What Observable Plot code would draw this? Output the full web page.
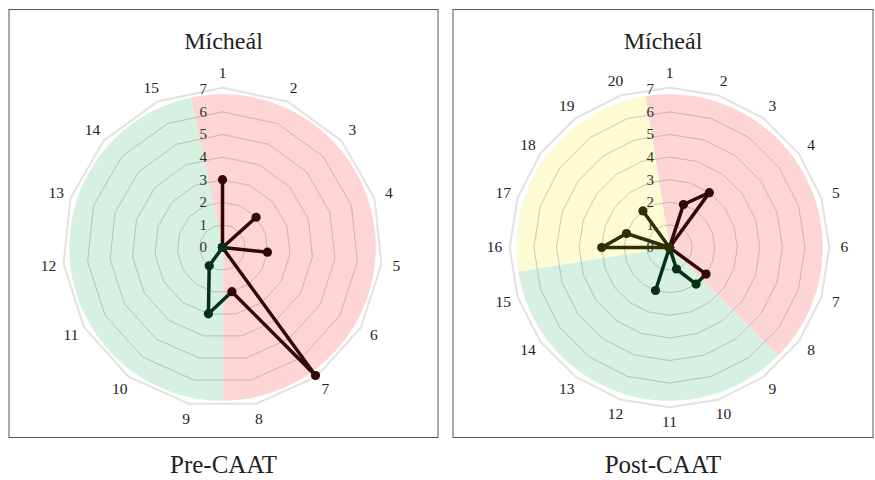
<!DOCTYPE html>
<html>
<head>
<meta charset="utf-8">
<script src="https://cdn.jsdelivr.net/npm/d3@7"></script>
<script src="https://cdn.jsdelivr.net/npm/@observablehq/plot@0.6"></script>
<style>
  html, body { margin: 0; padding: 0; background: #fff; }
  #wrap { position: relative; width: 875px; height: 480px; }
  #wrap > div { position: absolute; top: 0; }
</style>
</head>
<body>
<div id="wrap"><div id="left"></div><div id="right"></div></div>
<script>
// ---------- data ----------
const titleText = "Mícheál";
const preCaption = "Pre-CAAT";
const postCaption = "Post-CAAT";

const preCategories = ["1","2","3","4","5","6","7","8","9","10","11","12","13","14","15"];
const preValues     = [3, 0, 2, 0, 2, 0, 7, 2, 3, 1, 0, 0, 0, 0, 0];
const preGroups     = ["A","A","A","A","A","A","A","A","B","B","B","B","B","B","B"];

const postCategories = ["1","2","3","4","5","6","7","8","9","10","11","12","13","14","15","16","17","18","19","20"];
const postValues     = [0, 2, 3, 0, 0, 0, 0, 2, 2, 1, 0, 2, 0, 0, 0, 3, 2, 0, 2, 0];
const postGroups     = ["A","A","A","A","A","A","A","A","B","B","B","B","B","B","B","C","C","C","C","C"];

const radialTicks = [0, 1, 2, 3, 4, 5, 6, 7];
const groupFill = {A: "#fdd5d5", B: "#d6f0e1", C: "#fdfbd4"};
const groupLine = {A: "#340606", B: "#05301a", C: "#2f2f06"};

// ---------- layout ----------
const U = 22.6;          // px per radial unit
const H = 480, boxTop = 9, boxBottom = 437, cy = 247;
const fillR = 6.78, outerR = 7.07, labelR = 7.74;

function polar(r, i, n) {
  const a = (i * 360 / n) * Math.PI / 180;
  return {x: r * Math.sin(a), y: r * Math.cos(a)};
}

function radar({categories, values, groups, caption, svgLeft, svgWidth, boxLeft, boxRight, cx}) {
  const n = categories.length;
  const step = 360 / n;
  const groupNames = [...new Set(groups)];

  // sectors
  const sectorMarks = groupNames.map(g => {
    const idx = groups.map((v, i) => v === g ? i : -1).filter(i => i >= 0);
    const a0 = (idx[0] - 0.5) * step, a1 = (idx[idx.length - 1] + 0.5) * step;
    const pts = [{x: 0, y: 0}];
    for (let a = a0; a <= a1 + 1e-9; a += 0.5) {
      const t = a * Math.PI / 180;
      pts.push({x: fillR * Math.sin(t), y: fillR * Math.cos(t)});
    }
    pts.push({x: 0, y: 0});
    return Plot.line(pts, {x: "x", y: "y", fill: groupFill[g], stroke: "none", curve: "linear"});
  });

  // rings
  const rings = [];
  radialTicks.filter(k => k > 0 && k < 7).forEach(k => {
    for (let i = 0; i <= n; i++) rings.push({k, ...polar(k, i % n, n)});
  });
  const outer = [];
  for (let i = 0; i <= n; i++) outer.push(polar(outerR, i % n, n));

  // traces
  const traceRows = [];
  groupNames.forEach((g, gi) => {
    const idx = groups.map((v, i) => v === g ? i : -1).filter(i => i >= 0);
    const ids = gi > 0 ? [idx[0] - 1, ...idx] : idx;
    ids.forEach(i => traceRows.push({g, ...polar(values[i], i, n)}));
  });
  const dotRows = values.map((v, i) => ({g: groups[i], ...polar(v, i, n)}));

  const labels = categories.map((c, i) => ({c, ...polar(labelR, i, n)}));

  const marginLeft = boxLeft - svgLeft, marginRight = svgLeft + svgWidth - boxRight;
  return Plot.plot({
    width: svgWidth, height: H,
    marginLeft, marginRight, marginTop: boxTop, marginBottom: H - boxBottom,
    x: {domain: [(boxLeft - cx) / U, (boxRight - cx) / U], axis: null},
    y: {domain: [-(boxBottom - cy) / U, (cy - boxTop) / U], axis: null},
    color: {type: "identity"},
    style: {fontFamily: "'Liberation Serif', 'DejaVu Serif', serif", background: "#fff", overflow: "visible"},
    marks: [
      ...sectorMarks,
      Plot.line(rings, {x: "x", y: "y", z: "k", stroke: "#9a9a9a", strokeOpacity: 0.55, strokeWidth: 1, curve: "linear"}),
      Plot.line(outer, {x: "x", y: "y", stroke: "#e2e2e2", strokeWidth: 2, curve: "linear"}),
      Plot.line(traceRows, {x: "x", y: "y", z: "g", stroke: d => groupLine[d.g], strokeWidth: 3.5, curve: "linear"}),
      Plot.dot(dotRows, {x: "x", y: "y", fill: d => groupLine[d.g], r: 4.6, stroke: "none"}),
      Plot.text(labels, {x: "x", y: "y", text: "c", fontSize: 15.5, fill: "#222"}),
      Plot.text(radialTicks, {x: 0, y: d => d, text: d => String(d), textAnchor: "end", dx: -15.5, fontSize: 15, fill: "#333"}),
      Plot.text([titleText], {frameAnchor: "top", lineAnchor: "middle", dy: 31.5, text: d => d, fontSize: 24, fill: "#222"}),
      Plot.text([caption], {frameAnchor: "bottom", lineAnchor: "middle", dy: 27, text: d => d, fontSize: 25, fill: "#222"}),
      Plot.frame({stroke: "#555", strokeWidth: 1})
    ]
  });
}

const leftEl = document.getElementById("left");
const rightEl = document.getElementById("right");
leftEl.style.left = "0px";
rightEl.style.left = "440px";
leftEl.appendChild(radar({categories: preCategories, values: preValues, groups: preGroups, caption: preCaption,
  svgLeft: 0, svgWidth: 440, boxLeft: 8.5, boxRight: 437.5, cx: 222}));
rightEl.appendChild(radar({categories: postCategories, values: postValues, groups: postGroups, caption: postCaption,
  svgLeft: 440, svgWidth: 435, boxLeft: 452.5, boxRight: 872.5, cx: 669}));
</script>
</body>
</html>
